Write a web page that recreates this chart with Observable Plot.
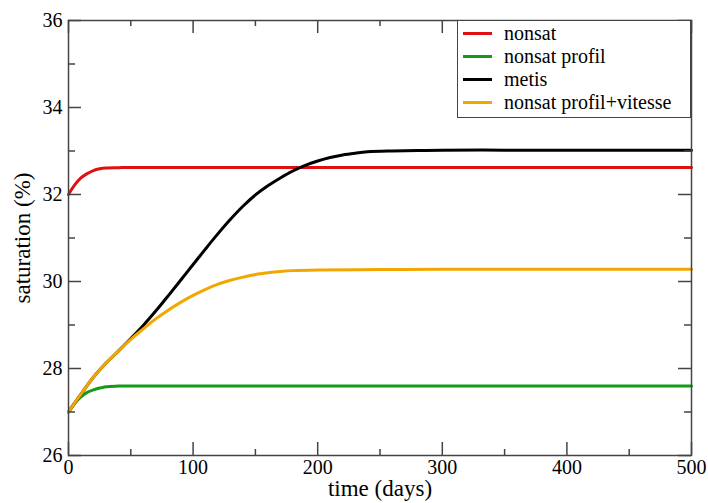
<!DOCTYPE html>
<html>
<head>
<meta charset="utf-8">
<script src="https://cdn.jsdelivr.net/npm/d3@7"></script>
<script src="https://cdn.jsdelivr.net/npm/@observablehq/plot@0.6"></script>
<style>
  body { margin: 0; background: #fff; }
  #wrap { position: relative; width: 708px; height: 503px; overflow: hidden; }
  #legend {
    position: absolute; left: 457px; top: 20px; width: 234px; height: 98px;
    box-sizing: border-box; border: 1.5px solid #444; background: #fff;
    font-family: "Liberation Serif", "Times New Roman", Tinos, "Noto Serif", "DejaVu Serif", Times, serif;
    font-size: 20px; color: #000;
    padding-top: 1px;
  }
  .row { display: flex; align-items: center; height: 23px; white-space: nowrap; }
  .sw { display: inline-block; width: 29px; height: 3px; margin-left: 5px; margin-right: 12px; }
</style>
</head>
<body>
<div id="wrap"></div>
<script>
// ---- data ----
const seriesNames = ["nonsat", "nonsat profil", "metis", "nonsat profil+vitesse"];
const seriesColors = ["#e01010", "#159a15", "#000000", "#f2a600"];

const nonsatDays = [0, 5, 10, 15, 20, 25, 30, 40, 50, 60, 100, 200, 300, 400, 500];
const nonsatVals = [32.0, 32.22, 32.38, 32.48, 32.55, 32.59, 32.61, 32.617, 32.62, 32.62, 32.62, 32.62, 32.62, 32.62, 32.62];

const profilDays = [0, 5, 10, 15, 20, 25, 30, 40, 50, 60, 100, 200, 300, 400, 500];
const profilVals = [27.0, 27.2, 27.35, 27.45, 27.51, 27.55, 27.58, 27.595, 27.6, 27.6, 27.6, 27.6, 27.6, 27.6, 27.6];

const metisDays = [0, 10, 20, 30, 40, 50, 60, 70, 80, 90, 100, 110, 120, 130, 140, 150, 160, 170, 180, 190, 200, 210, 220, 230, 240, 260, 280, 300, 350, 400, 450, 500];
const metisVals = [27.0, 27.41, 27.8, 28.12, 28.4, 28.69, 28.99, 29.32, 29.67, 30.03, 30.39, 30.75, 31.1, 31.43, 31.73, 31.99, 32.2, 32.38, 32.54, 32.67, 32.77, 32.85, 32.91, 32.95, 32.98, 33.0, 33.01, 33.02, 33.02, 33.02, 33.02, 33.02];

const vitesseDays = [0, 10, 20, 30, 40, 50, 60, 70, 80, 90, 100, 110, 120, 130, 140, 150, 160, 170, 180, 200, 250, 300, 400, 500];
const vitesseVals = [27.0, 27.41, 27.8, 28.12, 28.4, 28.67, 28.91, 29.14, 29.34, 29.52, 29.68, 29.82, 29.94, 30.03, 30.1, 30.16, 30.2, 30.23, 30.25, 30.265, 30.275, 30.28, 30.28, 30.28];

const xMajor = [0, 100, 200, 300, 400, 500];
const xMinor = [50, 150, 250, 350, 450];
const yMajor = [26, 28, 30, 32, 34, 36];
const yMinor = [27, 29, 31, 33, 35];

const xLabel = "time (days)";
const yLabel = "saturation (%)";

// ---- build ----
const allDays = [nonsatDays, profilDays, metisDays, vitesseDays];
const allVals = [nonsatVals, profilVals, metisVals, vitesseVals];
const data = [];
allDays.forEach((ds, i) => ds.forEach((d, j) => data.push({series: seriesNames[i], t: d, v: allVals[i][j]})));

const frameH = 503 - 20 - 48;
const frameW = 708 - 68 - 17;
const axisColor = "#444";
const serif = "'Liberation Serif', 'Times New Roman', Tinos, 'Noto Serif', 'DejaVu Serif', Times, serif";

const lineMarks = seriesNames.map((name, i) =>
  Plot.line(data.filter(d => d.series === name), {x: "t", y: "v", stroke: seriesColors[i], strokeWidth: 3, curve: "catmull-rom"})
);

const chart = Plot.plot({
  width: 708, height: 503,
  marginLeft: 68, marginRight: 17, marginTop: 20, marginBottom: 48,
  x: {domain: [0, 500]},
  y: {domain: [26, 36]},
  style: {fontFamily: serif, fontSize: "20px", color: "#000", background: "#fff"},
  marks: [
    ...lineMarks,
    // inward ticks on all four sides
    Plot.tickX(xMajor, {x: d => d, insetTop: frameH - 13, stroke: axisColor, strokeWidth: 1.5}),
    Plot.tickX(xMinor, {x: d => d, insetTop: frameH - 6, stroke: axisColor, strokeWidth: 1.5}),
    Plot.tickX(xMajor, {x: d => d, insetBottom: frameH - 13, stroke: axisColor, strokeWidth: 1.5}),
    Plot.tickX(xMinor, {x: d => d, insetBottom: frameH - 6, stroke: axisColor, strokeWidth: 1.5}),
    Plot.tickY(yMajor, {y: d => d, insetRight: frameW - 13, stroke: axisColor, strokeWidth: 1.5}),
    Plot.tickY(yMinor, {y: d => d, insetRight: frameW - 7, stroke: axisColor, strokeWidth: 1.5}),
    Plot.tickY(yMajor, {y: d => d, insetLeft: frameW - 13, stroke: axisColor, strokeWidth: 1.5}),
    Plot.tickY(yMinor, {y: d => d, insetLeft: frameW - 7, stroke: axisColor, strokeWidth: 1.5}),
    Plot.frame({stroke: axisColor, strokeWidth: 1.5}),
    Plot.axisX({ticks: xMajor, tickSize: 0, tickPadding: 4, label: null, fontSize: 20}),
    Plot.axisY({ticks: yMajor, tickSize: 0, tickPadding: 6, label: null, fontSize: 20}),
    Plot.text([xLabel], {frameAnchor: "bottom", dy: 33, lineAnchor: "middle", textAnchor: "middle", text: d => d, fontSize: 23, fill: "#000"}),
    Plot.text([yLabel], {frameAnchor: "left", dx: -46, rotate: -90, textAnchor: "middle", lineAnchor: "middle", text: d => d, fontSize: 23, fill: "#000"})
  ]
});

const wrap = document.getElementById("wrap");
wrap.appendChild(chart);

const legend = document.createElement("div");
legend.id = "legend";
seriesNames.forEach((name, i) => {
  const row = document.createElement("div");
  row.className = "row";
  const sw = document.createElement("span");
  sw.className = "sw";
  sw.style.background = seriesColors[i];
  const label = document.createElement("span");
  label.textContent = name;
  row.appendChild(sw);
  row.appendChild(label);
  legend.appendChild(row);
});
wrap.appendChild(legend);
</script>
</body>
</html>
